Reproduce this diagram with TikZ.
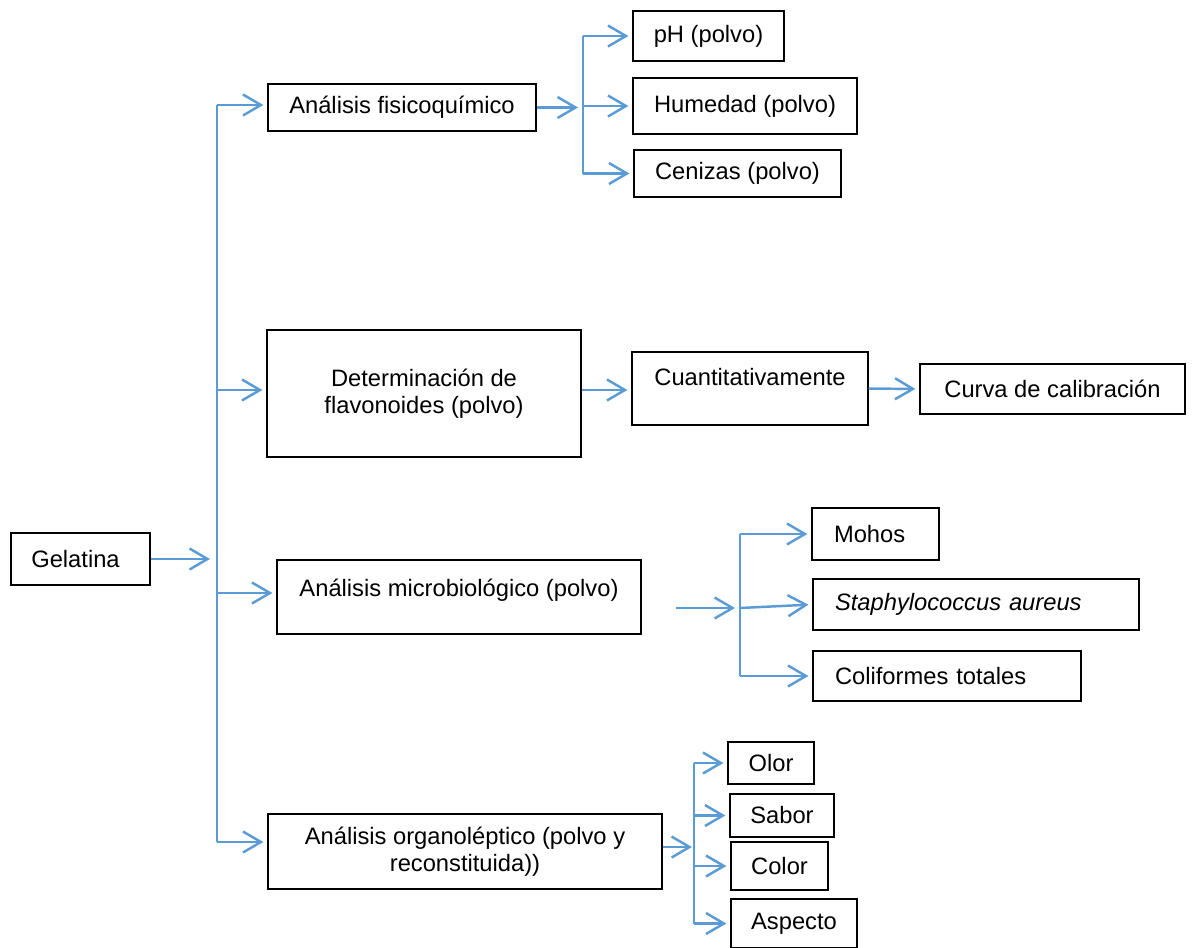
\documentclass[tikz,border=0pt]{standalone}
\usepackage{fontspec}
\setmainfont{Liberation Sans}
\usetikzlibrary{arrows.meta}
\definecolor{azul}{RGB}{91,155,213}
\tikzset{
caja/.style={draw, line width=0.7pt, inner sep=0pt, align=center,
  font=\fontsize{13.5}{15.6}\selectfont},
izq/.style={align=left, inner xsep=0.44cm, text width=#1},
arriba/.style={text height=10pt, text depth=#1},
linea/.style={azul, line width=1.4pt},
flecha/.style={linea, -{Straight Barb[length=3.6mm,width=4.2mm]}, shorten >=0.08cm}
}

\begin{document}
\begin{tikzpicture}[x=0.02cm, y=-0.02cm]
  \useasboundingbox (0,0) rectangle (1196,947);
  % cajas
  \node[caja, minimum width=2.78cm, minimum height=1.04cm] (gel) at (80.5,559) {Gelatina\hspace{0.2cm}};
  \node[caja, minimum width=5.36cm, minimum height=0.94cm] (fis) at (402,107.5) {Análisis fisicoquímico};
  \node[caja, minimum width=3.02cm, minimum height=1.00cm] (ph) at (708.5,36) {pH (polvo)};
  \node[caja, minimum width=4.48cm, minimum height=1.12cm] (hum) at (745,106) {Humedad (polvo)};
  \node[caja, minimum width=4.14cm, minimum height=0.94cm] (cen) at (737.5,173.5) {Cenizas (polvo)};
  \node[caja, minimum width=6.28cm, minimum height=2.54cm] (det) at (424,393.5) {Determinación de\\flavonoides (polvo)};
  \node[caja, arriba=13.2pt, minimum width=4.72cm, minimum height=1.46cm] (cua) at (750,388.5) {Cuantitativamente};
  \node[caja, minimum width=5.30cm, minimum height=1.00cm] (cur) at (1052.5,389) {Curva de calibración};
  \node[caja, arriba=10.4pt, minimum width=7.28cm, minimum height=1.48cm] (mic) at (459,597) {Análisis microbiológico (polvo)};
  \node[caja, izq=1.66cm, minimum height=1.04cm] (moh) at (875.5,534) {Mohos};
  \node[caja, izq=5.64cm, minimum height=1.02cm] (sta) at (976,604.5) {\itshape Staphylococcus aureus};
  \node[caja, izq=4.48cm, minimum height=1.00cm] (col) at (947,676) {Coliformes totales};
  \node[caja, minimum width=7.88cm, minimum height=1.50cm] (org) at (465,851.5) {Análisis organoléptico (polvo y\\reconstituida))};
  \node[caja, minimum width=1.72cm, minimum height=0.84cm] (olo) at (771,763) {Olor};
  \node[caja, minimum width=2.08cm, minimum height=0.86cm] (sab) at (782,815.5) {Sabor};
  \node[caja, minimum width=1.94cm, minimum height=0.96cm] (colr) at (779.5,866) {Color};
  \node[caja, minimum width=2.52cm, minimum height=0.98cm] (asp) at (794,923.5) {Aspecto};

  % tronco principal
  \coordinate (tronco) at (217,0);
  \draw[flecha, shorten >=0.14cm] (gel.east) -- (gel.east -| tronco);
  \draw[linea] ([yshift=0.05cm]fis.west -| tronco) -- ([yshift=0.19cm]org.west -| tronco);
  \foreach \n/\d in {fis/0.05, det/0.07, mic/0.08, org/0.19}
    \draw[flecha] ([yshift=\d cm]\n.west -| tronco) -- ([yshift=\d cm]\n.west);

  % fisicoquimico
  \coordinate (rf) at (583,0);
  \draw[flecha, shorten >=0.1cm] (fis.east) -- (fis.east -| rf);
  \draw[linea] (ph.west -| rf) -- (cen.west -| rf);
  \foreach \n in {ph,hum,cen}
    \draw[flecha] (\n.west -| rf) -- (\n.west);

  % flavonoides
  \draw[flecha] ([yshift=0.07cm]det.east) -- ([yshift=0.07cm]det.east -| cua.west);
  \draw[flecha] (cua.east) -- (cur.west);

  % microbiologico
  \coordinate (micin) at (676,608);
  \coordinate (rm) at (740,608);
  \draw[flecha, shorten >=0.1cm] (micin) -- (rm);
  \draw[linea] (moh.west -| rm) -- (col.west -| rm);
  \draw[flecha] (moh.west -| rm) -- (moh.west);
  \draw[flecha] (rm) -- (sta.west);
  \draw[flecha] (col.west -| rm) -- (col.west);

  % organoleptico
  \coordinate (ro) at (694,0);
  \draw[flecha, shorten >=0.04cm] ([yshift=0.09cm]org.east) -- ([yshift=0.09cm]org.east -| ro);
  \draw[linea] (olo.west -| ro) -- (asp.west -| ro);
  \foreach \n in {olo,sab,colr,asp}
    \draw[flecha] (\n.west -| ro) -- (\n.west);
\end{tikzpicture}
\end{document}
